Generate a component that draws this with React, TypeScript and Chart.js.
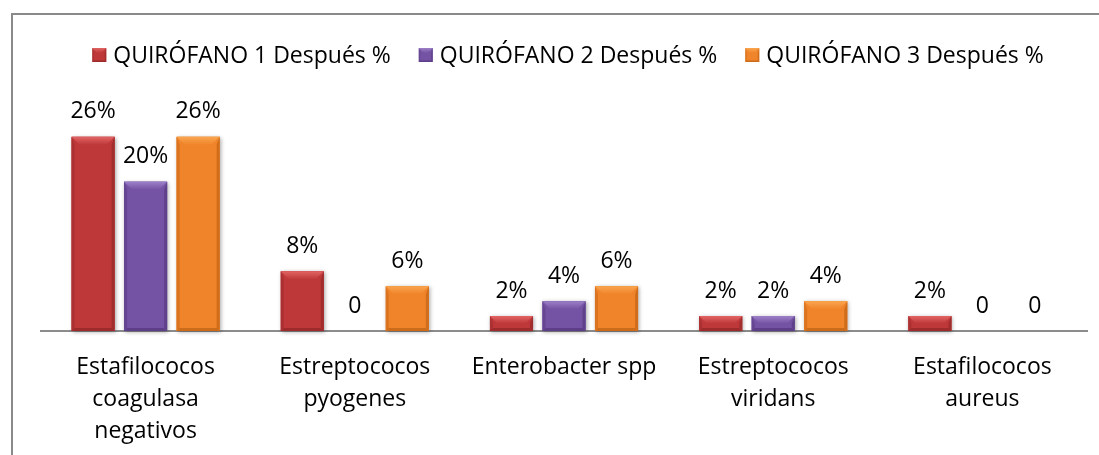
import React, { useEffect, useRef } from "react";
import { Chart, registerables } from "chart.js";

Chart.register(...registerables);

const categories: string[][] = [
  ["Estafilococos", "coagulasa", "negativos"],
  ["Estreptococos", "pyogenes"],
  ["Enterobacter spp"],
  ["Estreptococos", "viridans"],
  ["Estafilococos", "aureus"],
];
const seriesLabels = [
  "QUIRÓFANO 1 Después %",
  "QUIRÓFANO 2 Después %",
  "QUIRÓFANO 3 Después %",
];
const quirofano1 = [26, 8, 2, 2, 2];
const quirofano2 = [20, 0, 4, 2, 0];
const quirofano3 = [26, 6, 6, 4, 0];
const yMax = 30;

const mainColors = ["#BE3839", "#7553A4", "#F0842A"];
const lightColors = ["#E26464", "#9C80C8", "#F9A650"];
const darkColors = ["#9A2A2B", "#5A3D85", "#C86818"];

const FONT = "'Open Sans', 'Liberation Sans', sans-serif";
const FS = 23;

function drawBevelRect(ctx: CanvasRenderingContext2D, x0: number, y0: number, x1: number, y1: number, i: number, top: number, side: number) {
  const h = y1 - y0;
  const w = x1 - x0;
  if (h <= 0) return;
  const t = Math.min(top, h / 2, w / 2);
  const s = Math.min(side, h / 2, w / 2);
  const g = ctx.createLinearGradient(0, y0, 0, y0 + t);
  g.addColorStop(0, lightColors[i]);
  g.addColorStop(1, mainColors[i]);
  ctx.fillStyle = g;
  ctx.beginPath();
  ctx.moveTo(x0, y0);
  ctx.lineTo(x1, y0);
  ctx.lineTo(x1 - t, y0 + t);
  ctx.lineTo(x0 + t, y0 + t);
  ctx.closePath();
  ctx.fill();
  ctx.globalAlpha = 0.55;
  ctx.fillStyle = darkColors[i];
  ctx.beginPath();
  ctx.moveTo(x0, y0);
  ctx.lineTo(x0 + s, y0 + t);
  ctx.lineTo(x0 + s, y1 - s);
  ctx.lineTo(x0, y1);
  ctx.closePath();
  ctx.fill();
  ctx.globalAlpha = 0.8;
  ctx.beginPath();
  ctx.moveTo(x1, y0);
  ctx.lineTo(x1 - s, y0 + t);
  ctx.lineTo(x1 - s, y1 - s);
  ctx.lineTo(x1, y1);
  ctx.closePath();
  ctx.fill();
  ctx.globalAlpha = 0.9;
  ctx.beginPath();
  ctx.moveTo(x0, y1);
  ctx.lineTo(x0 + s, y1 - s);
  ctx.lineTo(x1 - s, y1 - s);
  ctx.lineTo(x1, y1);
  ctx.closePath();
  ctx.fill();
  ctx.globalAlpha = 1;
}

const framePlugin = {
  id: "frame",
  beforeDraw(chart: any) {
    const ctx = chart.ctx;
    ctx.save();
    ctx.fillStyle = "#ffffff";
    ctx.fillRect(0, 0, chart.width, chart.height);
    ctx.strokeStyle = "#8a8a8a";
    ctx.lineWidth = 2;
    ctx.strokeRect(12, 14, chart.width + 50, chart.height + 50);
    ctx.restore();
  },
};

const barStylePlugin = {
  id: "barStyle",
  beforeDatasetsDraw(chart: any) {
    const ctx = chart.ctx;
    ctx.save();
    chart.data.datasets.forEach((_: any, i: number) => {
      const meta = chart.getDatasetMeta(i);
      meta.data.forEach((el: any) => {
        const x0 = el.x - el.width / 2;
        const h = el.base - el.y;
        if (h <= 0) return;
        ctx.shadowColor = "rgba(0,0,0,0.35)";
        ctx.shadowBlur = 4;
        ctx.shadowOffsetX = 1;
        ctx.shadowOffsetY = 1;
        ctx.fillStyle = mainColors[i];
        ctx.fillRect(x0, el.y, el.width, h);
      });
    });
    ctx.restore();
  },
  afterDatasetsDraw(chart: any) {
    const ctx = chart.ctx;
    ctx.save();
    chart.data.datasets.forEach((ds: any, i: number) => {
      const meta = chart.getDatasetMeta(i);
      meta.data.forEach((el: any) => {
        const x0 = el.x - el.width / 2;
        const x1 = el.x + el.width / 2;
        drawBevelRect(ctx, x0, el.y, x1, el.base, i, 8, 3);
      });
    });
    ctx.fillStyle = "#000000";
    ctx.font = `${FS}px ${FONT}`;
    ctx.textAlign = "center";
    ctx.textBaseline = "middle";
    chart.data.datasets.forEach((ds: any, i: number) => {
      const meta = chart.getDatasetMeta(i);
      meta.data.forEach((el: any, j: number) => {
        const v = ds.data[j];
        const txt = v === 0 ? "0" : `${v}%`;
        ctx.fillText(txt, el.x, el.y - 25);
      });
    });
    ctx.restore();
  },
};

const legendPlugin = {
  id: "customLegend",
  afterDraw(chart: any) {
    const ctx = chart.ctx;
    ctx.save();
    ctx.font = `${FS}px ${FONT}`;
    ctx.textBaseline = "middle";
    ctx.textAlign = "left";
    const box = 14;
    const gap = 7;
    const itemGap = 28;
    const labels = chart.data.datasets.map((d: any) => d.label);
    const widths = labels.map((l: string) => box + gap + ctx.measureText(l).width);
    const total = widths.reduce((a: number, b: number) => a + b, 0) + itemGap * (labels.length - 1);
    let x = 568 - total / 2;
    const cy = 55;
    labels.forEach((l: string, i: number) => {
      const y0 = cy - box / 2;
      ctx.fillStyle = mainColors[i];
      ctx.fillRect(x, y0, box, box);
      drawBevelRect(ctx, x, y0, x + box, y0 + box, i, 5, 1.5);
      ctx.fillStyle = "#000000";
      ctx.fillText(l, x + box + gap, cy + 1);
      x += widths[i] + itemGap;
    });
    ctx.restore();
  },
};

export default function App() {
  const ref = useRef<HTMLCanvasElement>(null);
  useEffect(() => {
    if (!ref.current) return;
    const chart = new Chart(ref.current, {
      type: "bar",
      data: {
        labels: categories,
        datasets: [
          { label: seriesLabels[0], data: quirofano1, backgroundColor: mainColors[0], borderWidth: 0 },
          { label: seriesLabels[1], data: quirofano2, backgroundColor: mainColors[1], borderWidth: 0 },
          { label: seriesLabels[2], data: quirofano3, backgroundColor: mainColors[2], borderWidth: 0 },
        ],
      },
      options: {
        responsive: false,
        animation: false,
        devicePixelRatio: 1,
        layout: { padding: { top: 107, left: 41, right: 12, bottom: 0 } },
        datasets: { bar: { categoryPercentage: 0.753, barPercentage: 0.82 } },
        plugins: { legend: { display: false }, tooltip: { enabled: false } },
        scales: {
          x: {
            grid: { display: false, drawTicks: false },
            border: { display: true, color: "#8c8c8c", width: 2 },
            ticks: {
              color: "#000000",
              font: { family: FONT, size: FS, lineHeight: 1.4 },
              maxRotation: 0,
              autoSkip: false,
              padding: 20,
            },
            afterFit(scale: any) {
              scale.height = 124;
            },
          },
          y: { display: false, min: 0, max: yMax },
        },
      },
      plugins: [framePlugin, barStylePlugin, legendPlugin],
    });
    return () => chart.destroy();
  }, []);
  return (
    <div style={{ position: "absolute", left: 0, top: 0, width: 1099, height: 455 }}>
      <canvas ref={ref} width={1099} height={455} />
    </div>
  );
}
